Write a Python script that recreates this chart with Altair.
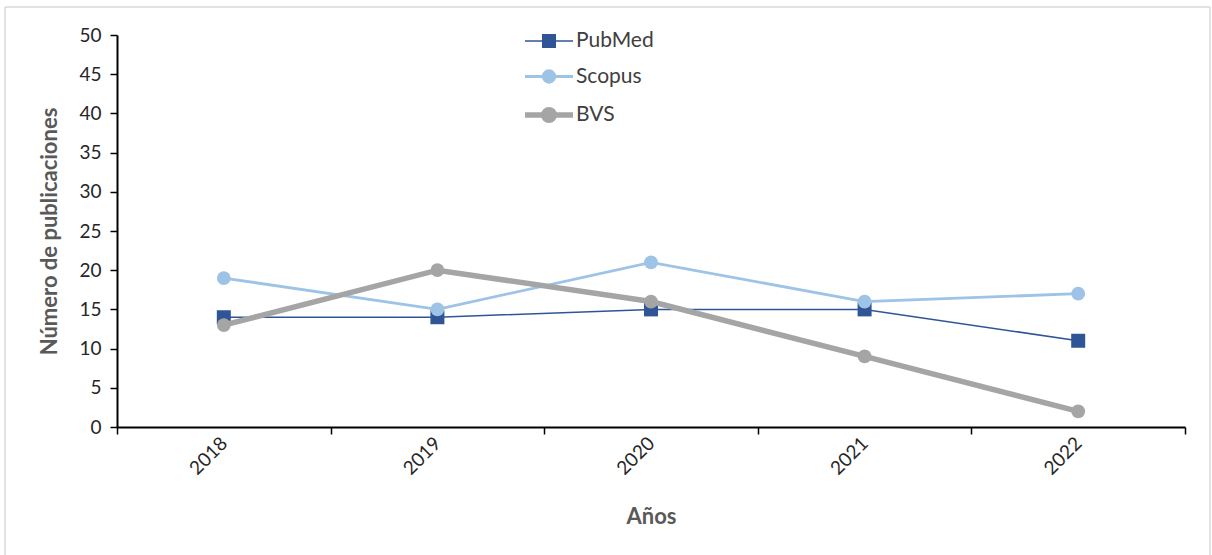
import altair as alt
import pandas as pd

# Publications per year and database
years = ["2018", "2019", "2020", "2021", "2022"]
pubmed = [14, 14, 15, 15, 11]
scopus = [19, 15, 21, 16, 17]
bvs = [13, 20, 16, 9, 2]

series_names = ["PubMed", "Scopus", "BVS"]
series_colors = ["#2F5597", "#9DC3E6", "#A5A5A5"]
series_widths = [1.5, 2.8, 5.5]

# Legend glyphs: a short line segment with the series marker on it
legend_paths = [
    "M-1,0H1M-0.26,-0.26H0.26V0.26H-0.26Z",
    "M-1,0H1M0.24,0A0.24,0.24,0,1,1,-0.24,0A0.24,0.24,0,1,1,0.24,0Z",
    "M-1,0H1M0.22,0A0.22,0.22,0,1,1,-0.22,0A0.22,0.22,0,1,1,0.22,0Z",
]

rows = []
for name, vals in zip(series_names, [pubmed, scopus, bvs]):
    for y, v in zip(years, vals):
        rows.append({"Año": y, "Serie": name, "Publicaciones": v})
df = pd.DataFrame(rows)

W, H = 1068, 392
FONT = "Lato"

color_scale = alt.Scale(domain=series_names, range=series_colors)
x_enc = alt.X(
    "Año:O",
    scale=alt.Scale(type="band", paddingInner=0, paddingOuter=0),
    axis=alt.Axis(
        title="Años",
        labelAngle=-45,
        labelAlign="right",
        labelBaseline="middle",
        labelPadding=6,
        labelFontSize=19,
        labelColor="#262626",
        tickBand="extent",
        tickSize=7,
        tickColor="#000000",
        tickWidth=1.5,
        domainColor="#000000",
        domainWidth=2,
        titleFontSize=22,
        titleFontWeight="bold",
        titleColor="#595959",
        titlePadding=28,
    ),
)
y_enc = alt.Y(
    "Publicaciones:Q",
    scale=alt.Scale(domain=[0, 50], nice=False),
    axis=alt.Axis(
        title="Número de publicaciones",
        values=list(range(0, 51, 5)),
        grid=False,
        labelFontSize=19,
        labelColor="#262626",
        labelPadding=9,
        tickSize=7,
        tickColor="#000000",
        tickWidth=1.5,
        domainColor="#000000",
        domainWidth=2,
        titleFontSize=22,
        titleFontWeight="bold",
        titleColor="#595959",
        titlePadding=17,
    ),
)

legend = alt.Legend(
    title=None,
    orient="none",
    legendX=405,
    legendY=-19,
    padding=0,
    symbolSize=2304,
    rowPadding=-10,
    labelOffset=0,
    labelFontSize=21,
    labelColor="#404040",
    labelFont=FONT,
)

base = alt.Chart(df).encode(x=x_enc, y=y_enc)
color_enc = alt.Color("Serie:N", scale=color_scale, legend=legend, sort=series_names)

layers = []
for name, width in zip(series_names, series_widths):
    sub = base.transform_filter(alt.datum.Serie == name)
    layers.append(sub.mark_line(strokeWidth=width).encode(color=color_enc))
    if name == "PubMed":
        layers.append(sub.mark_square(size=196, opacity=1).encode(color=color_enc))
    else:
        layers.append(sub.mark_circle(size=190, opacity=1).encode(color=color_enc))

# Invisible layer that carries the legend glyph shapes and stroke widths
legend_layer = base.mark_point(filled=True, opacity=0).encode(
    color=color_enc,
    stroke=alt.Stroke("Serie:N", scale=color_scale, legend=legend, sort=series_names),
    shape=alt.Shape(
        "Serie:N",
        scale=alt.Scale(domain=series_names, range=legend_paths),
        legend=legend,
        sort=series_names,
    ),
    strokeWidth=alt.StrokeWidth(
        "Serie:O",
        scale=alt.Scale(type="ordinal", domain=series_names, range=series_widths),
        legend=legend,
        sort=series_names,
    ),
)

# Light frame around the whole figure
frame_data = alt.Data(values=[{}])
frame_style = dict(color="#D9D9D9", strokeWidth=1.5)
frame = [
    alt.Chart(frame_data).mark_rule(**frame_style).encode(
        x=alt.value(-112), x2=alt.value(1093), y=alt.value(-28)
    ),
    alt.Chart(frame_data).mark_rule(**frame_style).encode(
        x=alt.value(-112), y=alt.value(-28), y2=alt.value(530)
    ),
    alt.Chart(frame_data).mark_rule(**frame_style).encode(
        x=alt.value(1093), y=alt.value(-28), y2=alt.value(530)
    ),
]

chart = (
    alt.layer(*frame, *layers, legend_layer)
    .properties(
        width=W,
        height=H,
        autosize=alt.AutoSizeParams(type="none"),
        padding={"left": 117, "top": 35, "right": 27, "bottom": 128},
        background="#FFFFFF",
    )
    .configure_view(stroke=None)
    .configure_axis(labelFont=FONT, titleFont=FONT)
    .configure_legend(labelFont=FONT)
)

chart.save("out.html", embed_options={"renderer": "svg", "actions": False})
